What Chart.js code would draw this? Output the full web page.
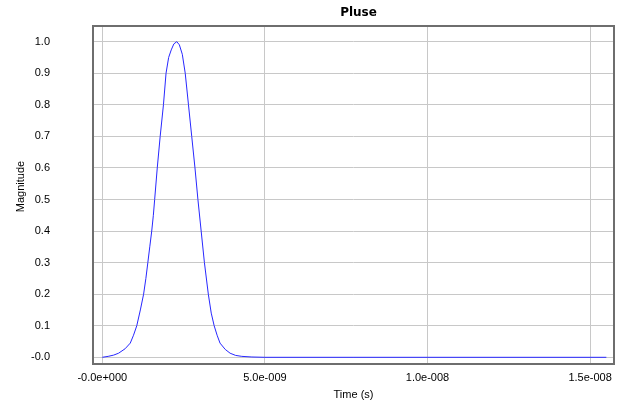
<!DOCTYPE html>
<html>
<head>
<meta charset="utf-8">
<script src="https://cdn.jsdelivr.net/npm/chart.js@4/dist/chart.umd.min.js"></script>
<style>
html,body{margin:0;padding:0;background:#fff;}
canvas{display:block;}
</style>
</head>
<body>
<canvas id="c" width="627" height="401"></canvas>
<script>
// Data (time in seconds, magnitude)
const timeS = [0.0e-9,0.18e-9,0.35e-9,0.5e-9,0.7e-9,0.86e-9,0.96e-9,1.06e-9,1.17e-9,1.27e-9,1.34e-9,1.40e-9,1.46e-9,1.52e-9,1.57e-9,1.61e-9,1.69e-9,1.78e-9,1.88e-9,1.96e-9,2.04e-9,2.12e-9,2.2e-9,2.29e-9,2.37e-9,2.46e-9,2.55e-9,2.65e-9,2.75e-9,2.85e-9,2.94e-9,3.04e-9,3.14e-9,3.26e-9,3.35e-9,3.44e-9,3.53e-9,3.62e-9,3.78e-9,3.93e-9,4.1e-9,4.29e-9,4.6e-9,5.0e-9,15.5e-9];
const magnitude = [0.0,0.003,0.007,0.013,0.027,0.045,0.07,0.1,0.15,0.2,0.25,0.3,0.35,0.4,0.45,0.5,0.6,0.7,0.8,0.9,0.95,0.974,0.993,1.0,0.99,0.96,0.9,0.8,0.7,0.6,0.5,0.4,0.3,0.2,0.14,0.1,0.07,0.045,0.025,0.013,0.006,0.003,0.001,0.0,0.0];
const xTickValues = [0, 5e-9, 1e-8, 1.5e-8];
const xTickLabels = ["-0.0e+000", "5.0e-009", "1.0e-008", "1.5e-008"];
const yTickValues = [0,0.1,0.2,0.3,0.4,0.5,0.6,0.7,0.8,0.9,1.0];
const yTickLabels = ["-0.0","0.1","0.2","0.3","0.4","0.5","0.6","0.7","0.8","0.9","1.0"];
const chartTitle = "Pluse";
const yTitle = "Magnitude";
const xTitle = "Time (s)";

const points = timeS.map((t,i)=>({x:t, y:magnitude[i]}));
const FONT = "'Liberation Sans', Arial, sans-serif";

const frame = {
  id:'frame',
  beforeDraw(chart){
    const c = chart.ctx;
    c.save(); c.fillStyle='#fff'; c.fillRect(0,0,chart.width,chart.height); c.restore();
  },
  afterDatasetsDraw(chart){
    const a = chart.chartArea, c = chart.ctx;
    c.save();
    c.strokeStyle = '#6e6e6e';
    c.lineWidth = 2;
    c.strokeRect(a.left, a.top, a.right-a.left, a.bottom-a.top);
    // chart title
    c.fillStyle = '#000';
    c.textAlign = 'center';
    c.textBaseline = 'middle';
    c.font = "bold 12px 'DejaVu Sans', sans-serif";
    c.fillText(chartTitle, (a.left + a.right)/2 + 5, 13);
    // y axis title
    c.font = "11px " + FONT;
    c.translate(21, 186.5);
    c.rotate(-Math.PI/2);
    c.fillText(yTitle, 0, 0);
    c.restore();
  }
};

new Chart(document.getElementById('c'), {
  type:'line',
  data:{ datasets:[{ data:points, borderColor:'#2828ff', borderWidth:1, pointRadius:0, tension:0, fill:false }] },
  options:{
    responsive:false, animation:false, devicePixelRatio:1,
    layout:{ padding:{ left:10, right:13, top:26, bottom:0 } },
    plugins:{ legend:{display:false}, tooltip:{enabled:false}, title:{display:false} },
    scales:{
      x:{ type:'linear', min:-0.286e-9, max:15.735e-9,
        afterBuildTicks(s){ s.ticks = xTickValues.map(v=>({value:v})); },
        afterFit(s){ s.height = 37; s.paddingLeft = 0; s.paddingRight = 0; },
        grid:{ color:'#c8c8c8', lineWidth:1, drawTicks:false },
        border:{ display:false },
        ticks:{ color:'#000', font:{family:FONT, size:11}, padding:7, maxRotation:0, autoSkip:false,
          callback(v, i){ return xTickLabels[i]; } },
        title:{ display:true, text:xTitle, color:'#000', font:{family:FONT, size:11}, padding:{top:0,bottom:-1} }
      },
      y:{ type:'linear', min:-0.0212, max:1.0497,
        afterBuildTicks(s){ s.ticks = yTickValues.map(v=>({value:v})); },
        afterFit(s){ s.width = 83; s.paddingTop = 0; s.paddingBottom = 0; },
        grid:{ color:'#c8c8c8', lineWidth:1, drawTicks:false },
        border:{ display:false },
        ticks:{ color:'#000', font:{family:FONT, size:11}, padding:43, autoSkip:false,
          callback(v, i){ return yTickLabels[i]; } },
        title:{ display:false }
      }
    }
  },
  plugins:[frame]
});
</script>
</body>
</html>
